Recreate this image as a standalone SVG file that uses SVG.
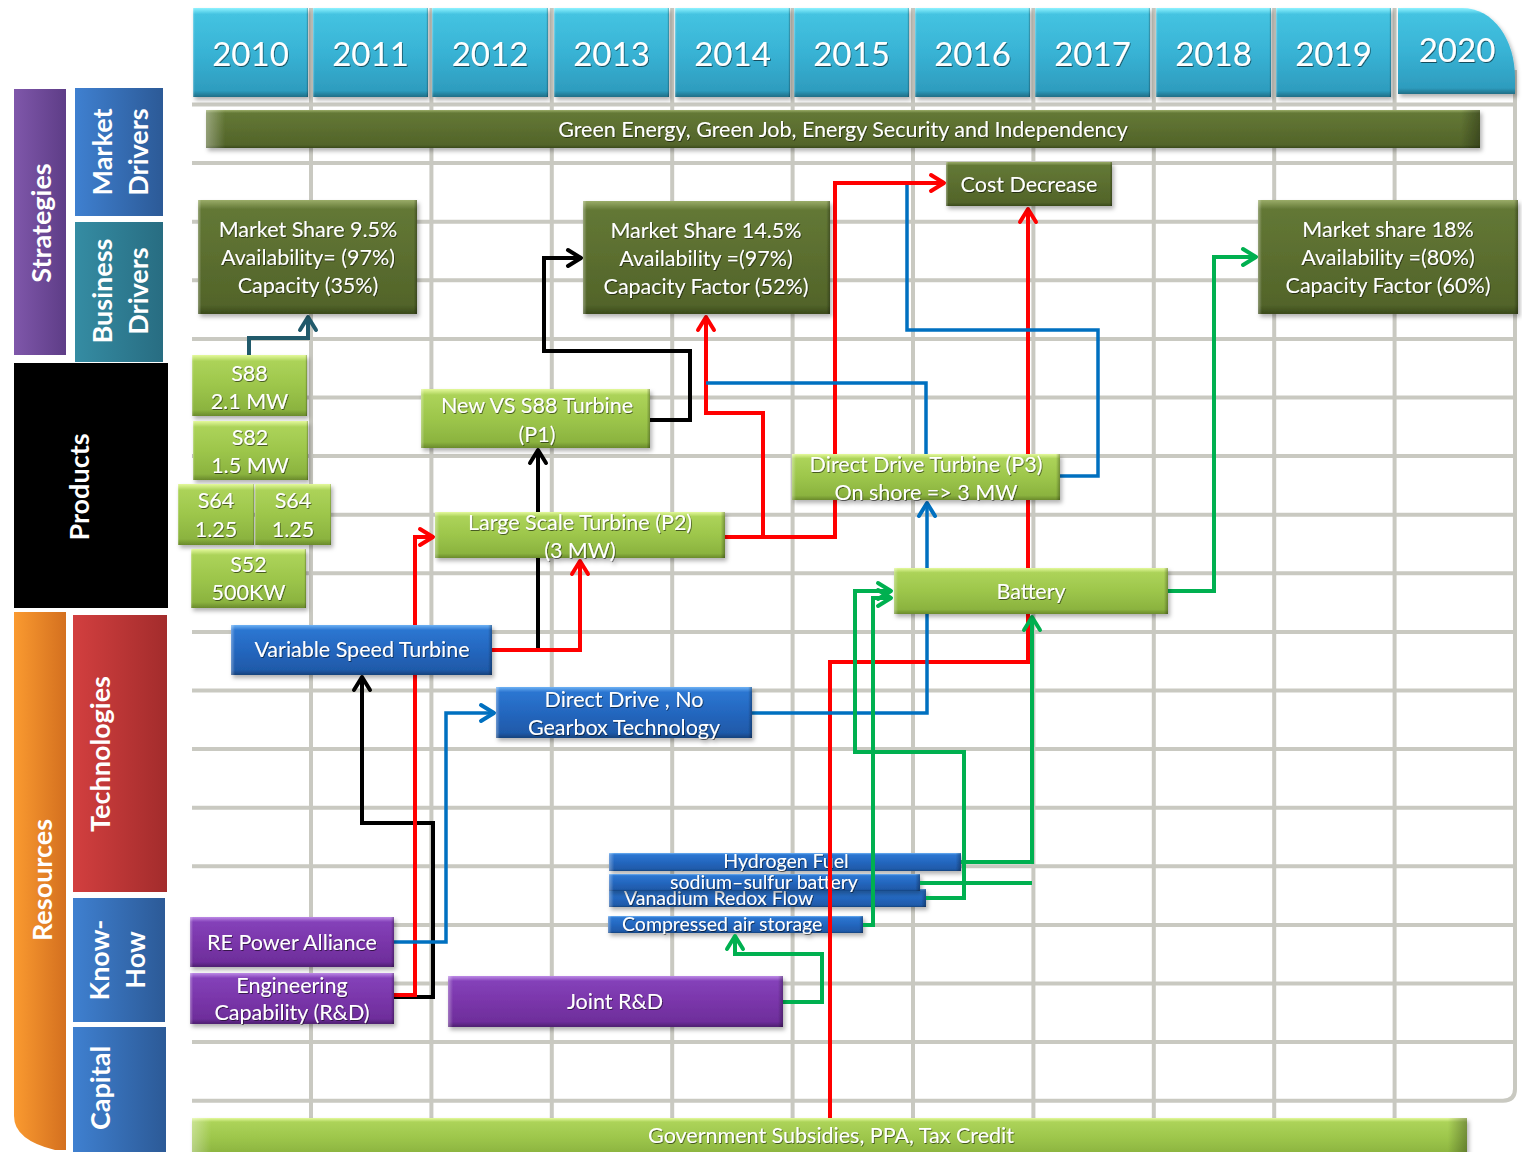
<svg xmlns="http://www.w3.org/2000/svg" width="1522" height="1152" viewBox="0 0 1522 1152">
<defs>
  <!-- vertical bevel fills -->
  <linearGradient id="gCyan" x1="0" y1="0" x2="0" y2="1">
    <stop offset="0" stop-color="#8ef2ff"/><stop offset="0.07" stop-color="#44c3e1"/>
    <stop offset="0.5" stop-color="#38b3d5"/><stop offset="0.93" stop-color="#2e9cbe"/><stop offset="1" stop-color="#1f6e86"/>
  </linearGradient>
  <linearGradient id="gOlive" x1="0" y1="0" x2="0" y2="1">
    <stop offset="0" stop-color="#9aac68"/><stop offset="0.08" stop-color="#637836"/>
    <stop offset="0.5" stop-color="#5b6e2f"/><stop offset="0.92" stop-color="#52642a"/><stop offset="1" stop-color="#3a4a1b"/>
  </linearGradient>
  <linearGradient id="gLime" x1="0" y1="0" x2="0" y2="1">
    <stop offset="0" stop-color="#e4f99c"/><stop offset="0.1" stop-color="#acd359"/>
    <stop offset="0.5" stop-color="#9dc64b"/><stop offset="0.9" stop-color="#8bb33f"/><stop offset="1" stop-color="#6a8a2b"/>
  </linearGradient>
  <linearGradient id="gBlue" x1="0" y1="0" x2="0" y2="1">
    <stop offset="0" stop-color="#6eb2f4"/><stop offset="0.1" stop-color="#2c76d1"/>
    <stop offset="0.5" stop-color="#2467bf"/><stop offset="0.9" stop-color="#1f5aa9"/><stop offset="1" stop-color="#16427c"/>
  </linearGradient>
  <linearGradient id="gPurple" x1="0" y1="0" x2="0" y2="1">
    <stop offset="0" stop-color="#bd8ae6"/><stop offset="0.1" stop-color="#8441b9"/>
    <stop offset="0.5" stop-color="#7a36aa"/><stop offset="0.9" stop-color="#6e2e9b"/><stop offset="1" stop-color="#4e1f70"/>
  </linearGradient>
  <!-- side bevel overlay -->
  <linearGradient id="gSide" x1="0" y1="0" x2="1" y2="0">
    <stop offset="0" stop-color="#fff" stop-opacity="0.35"/><stop offset="0.015" stop-color="#fff" stop-opacity="0"/>
    <stop offset="0.985" stop-color="#000" stop-opacity="0"/><stop offset="1" stop-color="#000" stop-opacity="0.3"/>
  </linearGradient>
  <!-- side-band label fills -->
  <linearGradient id="lPurple" x1="0" y1="0" x2="1" y2="0"><stop offset="0" stop-color="#7f57aa"/><stop offset="1" stop-color="#5e3d87"/></linearGradient>
  <linearGradient id="lBlue" x1="0" y1="0" x2="1" y2="0"><stop offset="0" stop-color="#3f80d0"/><stop offset="1" stop-color="#2c5a97"/></linearGradient>
  <linearGradient id="lTeal" x1="0" y1="0" x2="1" y2="0"><stop offset="0" stop-color="#358ca3"/><stop offset="1" stop-color="#286d82"/></linearGradient>
  <linearGradient id="lOrange" x1="0" y1="0" x2="1" y2="0"><stop offset="0" stop-color="#fa9a30"/><stop offset="1" stop-color="#d4701f"/></linearGradient>
  <linearGradient id="lRed" x1="0" y1="0" x2="1" y2="0"><stop offset="0" stop-color="#d23f3f"/><stop offset="1" stop-color="#a32c2c"/></linearGradient>

  <filter id="sh" x="-5%" y="-10%" width="115%" height="140%">
    <feDropShadow dx="2" dy="3" stdDeviation="2" flood-color="#000" flood-opacity="0.3"/>
  </filter>
  <filter id="ts" x="-5%" y="-20%" width="110%" height="150%">
    <feDropShadow dx="0.8" dy="1" stdDeviation="0.7" flood-color="#000" flood-opacity="0.55"/>
  </filter>

  <marker id="aRed" markerUnits="userSpaceOnUse" viewBox="0 0 22 22" markerWidth="22" markerHeight="22" refX="17" refY="11" orient="auto">
    <path d="M4,3 L17,11 L4,19" fill="none" stroke="#ff0000" stroke-width="4" stroke-linejoin="round" stroke-linecap="round"/>
  </marker>
  <marker id="aBlack" markerUnits="userSpaceOnUse" viewBox="0 0 22 22" markerWidth="22" markerHeight="22" refX="17" refY="11" orient="auto">
    <path d="M4,3 L17,11 L4,19" fill="none" stroke="#000" stroke-width="4" stroke-linejoin="round" stroke-linecap="round"/>
  </marker>
  <marker id="aBlue" markerUnits="userSpaceOnUse" viewBox="0 0 22 22" markerWidth="22" markerHeight="22" refX="17" refY="11" orient="auto">
    <path d="M4,3 L17,11 L4,19" fill="none" stroke="#0070c0" stroke-width="4" stroke-linejoin="round" stroke-linecap="round"/>
  </marker>
  <marker id="aGreen" markerUnits="userSpaceOnUse" viewBox="0 0 22 22" markerWidth="22" markerHeight="22" refX="17" refY="11" orient="auto">
    <path d="M4,3 L17,11 L4,19" fill="none" stroke="#00b050" stroke-width="4" stroke-linejoin="round" stroke-linecap="round"/>
  </marker>
  <marker id="aTeal" markerUnits="userSpaceOnUse" viewBox="0 0 22 22" markerWidth="22" markerHeight="22" refX="17" refY="11" orient="auto">
    <path d="M4,3 L17,11 L4,19" fill="none" stroke="#215a6b" stroke-width="4" stroke-linejoin="round" stroke-linecap="round"/>
  </marker>
</defs>
<style>
  .t { font-family: Lato, "Open Sans", "Liberation Sans", sans-serif; fill: #fff; font-size: 21.5px; text-anchor: middle; filter: url(#ts); }
  .yr { font-size: 33px; }
  .sm { font-size: 19.5px; }
  .lab { font-family: Lato, "Open Sans", "Liberation Sans", sans-serif; fill: #fff; font-size: 27px; font-weight: 700; text-anchor: middle; }
  .box { filter: url(#sh); }
  .side { fill: url(#gSide); }
  .grid line, .grid path { stroke: #c9c9c1; stroke-width: 4; fill: none; }
  .c { fill: none; stroke-width: 4; stroke-linejoin: miter; }
  .red { stroke: #ff0000; marker-end: url(#aRed); }
  .blk { stroke: #000; marker-end: url(#aBlack); }
  .blu { stroke: #0070c0; stroke-width: 3.5; marker-end: url(#aBlue); }
  .grn { stroke: #00b050; marker-end: url(#aGreen); }
  .tea { stroke: #215a6b; marker-end: url(#aTeal); }
  .noarrow { marker-end: none; }
</style>

<rect width="1522" height="1152" fill="#fff"/>

<!-- timeline grid -->
<g class="grid">
  <line x1="192" y1="104.5" x2="1515" y2="104.5"/>
  <line x1="192" y1="163.1" x2="1515" y2="163.1"/>
  <line x1="192" y1="221.7" x2="1515" y2="221.7"/>
  <line x1="192" y1="280.3" x2="1515" y2="280.3"/>
  <line x1="192" y1="338.9" x2="1515" y2="338.9"/>
  <line x1="192" y1="397.5" x2="1515" y2="397.5"/>
  <line x1="192" y1="456.1" x2="1515" y2="456.1"/>
  <line x1="192" y1="514.7" x2="1515" y2="514.7"/>
  <line x1="192" y1="573.3" x2="1515" y2="573.3"/>
  <line x1="192" y1="631.9" x2="1515" y2="631.9"/>
  <line x1="192" y1="690.5" x2="1515" y2="690.5"/>
  <line x1="192" y1="749.1" x2="1515" y2="749.1"/>
  <line x1="192" y1="807.7" x2="1515" y2="807.7"/>
  <line x1="192" y1="866.3" x2="1515" y2="866.3"/>
  <line x1="192" y1="924.9" x2="1515" y2="924.9"/>
  <line x1="192" y1="983.5" x2="1515" y2="983.5"/>
  <line x1="192" y1="1042.1" x2="1515" y2="1042.1"/>
  <line x1="311" y1="8" x2="311" y2="1118"/>
  <line x1="431.4" y1="8" x2="431.4" y2="1118"/>
  <line x1="551.8" y1="8" x2="551.8" y2="1118"/>
  <line x1="672.2" y1="8" x2="672.2" y2="1118"/>
  <line x1="792.6" y1="8" x2="792.6" y2="1118"/>
  <line x1="913" y1="8" x2="913" y2="1118"/>
  <line x1="1033.4" y1="8" x2="1033.4" y2="1118"/>
  <line x1="1153.8" y1="8" x2="1153.8" y2="1118"/>
  <line x1="1274.2" y1="8" x2="1274.2" y2="1118"/>
  <line x1="1394.6" y1="8" x2="1394.6" y2="1118"/>
  <path d="M192,1100.7 H1503 Q1515,1100.7 1515,1089 V70"/>
</g>

<!-- side bands -->
<g id="strategies">
  <rect x="14" y="89" width="52" height="266" fill="url(#lPurple)"/>
  <text class="lab" transform="translate(51,223) rotate(-90)">Strategies</text>
</g>
<g id="market-drivers">
  <rect x="75" y="88" width="88" height="128" fill="url(#lBlue)"/>
  <text class="lab" transform="translate(112,152) rotate(-90)">Market</text>
  <text class="lab" transform="translate(148,152) rotate(-90)">Drivers</text>
</g>
<g id="business-drivers">
  <rect x="75" y="222" width="88" height="140" fill="url(#lTeal)"/>
  <text class="lab" transform="translate(112,291) rotate(-90)">Business</text>
  <text class="lab" transform="translate(148,291) rotate(-90)">Drivers</text>
</g>
<g id="products">
  <rect x="14" y="363" width="154" height="245" fill="#000"/>
  <text class="lab" transform="translate(89,487) rotate(-90)">Products</text>
</g>
<g id="resources">
  <path d="M14,612 H66 V1150 H55 Q14,1140 14,1116 Z" fill="url(#lOrange)"/>
  <text class="lab" transform="translate(52,880) rotate(-90)">Resources</text>
</g>
<g id="technologies">
  <rect x="73" y="615" width="94" height="277" fill="url(#lRed)"/>
  <text class="lab" transform="translate(110,754) rotate(-90)">Technologies</text>
</g>
<g id="know-how">
  <rect x="73" y="898" width="92" height="124" fill="url(#lBlue)"/>
  <text class="lab" transform="translate(109,960) rotate(-90)">Know-</text>
  <text class="lab" transform="translate(145,960) rotate(-90)">How</text>
</g>
<g id="capital">
  <rect x="73" y="1027" width="93" height="125" fill="url(#lBlue)"/>
  <text class="lab" transform="translate(110,1088) rotate(-90)">Capital</text>
</g>

<!-- year header -->
<g id="y2010" class="box"><rect x="193" y="8" width="115" height="89" fill="url(#gCyan)"/><rect class="side" x="193" y="8" width="115" height="89"/><text class="t yr" x="250.5" y="66">2010</text></g>
<g id="y2011" class="box"><rect x="313" y="8" width="115" height="89" fill="url(#gCyan)"/><rect class="side" x="313" y="8" width="115" height="89"/><text class="t yr" x="370.5" y="66">2011</text></g>
<g id="y2012" class="box"><rect x="432" y="8" width="116" height="89" fill="url(#gCyan)"/><rect class="side" x="432" y="8" width="116" height="89"/><text class="t yr" x="490" y="66">2012</text></g>
<g id="y2013" class="box"><rect x="554" y="8" width="115" height="89" fill="url(#gCyan)"/><rect class="side" x="554" y="8" width="115" height="89"/><text class="t yr" x="611.5" y="66">2013</text></g>
<g id="y2014" class="box"><rect x="675" y="8" width="115" height="89" fill="url(#gCyan)"/><rect class="side" x="675" y="8" width="115" height="89"/><text class="t yr" x="732.5" y="66">2014</text></g>
<g id="y2015" class="box"><rect x="794" y="8" width="115" height="89" fill="url(#gCyan)"/><rect class="side" x="794" y="8" width="115" height="89"/><text class="t yr" x="851.5" y="66">2015</text></g>
<g id="y2016" class="box"><rect x="915" y="8" width="115" height="89" fill="url(#gCyan)"/><rect class="side" x="915" y="8" width="115" height="89"/><text class="t yr" x="972.5" y="66">2016</text></g>
<g id="y2017" class="box"><rect x="1035" y="8" width="115" height="89" fill="url(#gCyan)"/><rect class="side" x="1035" y="8" width="115" height="89"/><text class="t yr" x="1092.5" y="66">2017</text></g>
<g id="y2018" class="box"><rect x="1156" y="8" width="115" height="89" fill="url(#gCyan)"/><rect class="side" x="1156" y="8" width="115" height="89"/><text class="t yr" x="1213.5" y="66">2018</text></g>
<g id="y2019" class="box"><rect x="1276" y="8" width="115" height="89" fill="url(#gCyan)"/><rect class="side" x="1276" y="8" width="115" height="89"/><text class="t yr" x="1333.5" y="66">2019</text></g>
<g id="y2020" class="box"><path d="M1398,8 H1462 C1494,8 1515,40 1515,78 V94 H1398 Z" fill="url(#gCyan)"/><text class="t yr" x="1457" y="62">2020</text></g>

<!-- strategy bar -->
<g id="green-energy" class="box">
  <rect x="206" y="110" width="1274" height="38" fill="url(#gOlive)"/><rect class="side" x="206" y="110" width="1274" height="38"/>
  <text class="t" x="843" y="137">Green Energy, Green Job, Energy Security and Independency</text>
</g>

<!-- storage technology bars (under the connectors) -->
<g id="hydrogen-fuel" class="box">
  <rect x="609" y="853" width="352" height="18" fill="url(#gBlue)"/><rect class="side" x="609" y="853" width="352" height="18"/>
  <text class="t sm" x="786" y="868">Hydrogen Fuel</text>
</g>
<g id="vanadium-redox" class="box">
  <rect x="609" y="889" width="317" height="18" fill="url(#gBlue)"/><rect class="side" x="609" y="889" width="317" height="18"/>
  <text class="t sm" x="624" y="905" style="text-anchor:start">Vanadium Redox Flow</text>
</g>
<g id="sodium-sulfur" class="box">
  <rect x="609" y="874" width="311" height="17" fill="url(#gBlue)"/><rect class="side" x="609" y="874" width="311" height="17"/>
  <text class="t sm" x="764" y="889">sodium–sulfur battery</text>
</g>
<g id="compressed-air" class="box">
  <rect x="608" y="916" width="255" height="17" fill="url(#gBlue)"/><rect class="side" x="608" y="916" width="255" height="17"/>
  <text class="t sm" x="622" y="931" style="text-anchor:start">Compressed air storage</text>
</g>

<!-- connectors -->
<g id="connectors">
  <path class="c tea" d="M249,355 V338 H308 V317"/>
  <path class="c blk" d="M650,420 H690 V351 H544 V258 H581"/>
  <path class="c blk" d="M538,650 V450"/>
  <path class="c blk" d="M394,997 H433 V823 H362 V677"/>
  <path class="c red" d="M394,995 H415 V537 H433"/>
  <path class="c red" d="M492,650 H580 V561"/>
  <path class="c red" d="M725,537 H835 V183 H944"/>
  <path class="c red" d="M763,537 V413 H706 V317"/>
  <path class="c red" d="M830,1118 V662 H1028 V209"/>
  <path class="c blu" d="M394,942 H446 V713 H494"/>
  <path class="c blu" d="M752,713 H927 V503"/>
  <path class="c blu noarrow" d="M706,383 H926 V454"/>
  <path class="c blu noarrow" d="M1060,476 H1098 V330 H907 V185"/>
  <path class="c grn" d="M1168,591 H1214 V257 H1256"/>
  <path class="c grn" d="M783,1002 H822 V954 H735 V936"/>
  <path class="c grn" d="M863,925 H873 V598 H891"/>
  <path class="c grn" d="M926,898 H964 V752 H855 V591 H891"/>
  <path class="c grn" d="M961,862 H1032 V617"/>
  <path class="c grn noarrow" d="M920,883 H1032"/>
</g>

<!-- business drivers -->
<g id="market-share-2010" class="box">
  <rect x="198" y="200" width="219" height="114" fill="url(#gOlive)"/><rect class="side" x="198" y="200" width="219" height="114"/>
  <text class="t" x="308" y="237">Market Share 9.5%</text>
  <text class="t" x="308" y="265">Availability= (97%)</text>
  <text class="t" x="308" y="293">Capacity (35%)</text>
</g>
<g id="market-share-2013" class="box">
  <rect x="583" y="201" width="247" height="113" fill="url(#gOlive)"/><rect class="side" x="583" y="201" width="247" height="113"/>
  <text class="t" x="706" y="238">Market Share 14.5%</text>
  <text class="t" x="706" y="266">Availability =(97%)</text>
  <text class="t" x="706" y="294">Capacity Factor (52%)</text>
</g>
<g id="market-share-2020" class="box">
  <rect x="1258" y="200" width="260" height="114" fill="url(#gOlive)"/><rect class="side" x="1258" y="200" width="260" height="114"/>
  <text class="t" x="1388" y="237">Market share 18%</text>
  <text class="t" x="1388" y="265">Availability =(80%)</text>
  <text class="t" x="1388" y="293">Capacity Factor (60%)</text>
</g>
<g id="cost-decrease" class="box">
  <rect x="946" y="162" width="166" height="44" fill="url(#gOlive)"/><rect class="side" x="946" y="162" width="166" height="44"/>
  <text class="t" x="1029" y="192">Cost Decrease</text>
</g>

<!-- products -->
<g id="s88" class="box">
  <rect x="192" y="355" width="115" height="61" fill="url(#gLime)"/><rect class="side" x="192" y="355" width="115" height="61"/>
  <text class="t" x="249.5" y="381">S88</text><text class="t" x="249.5" y="409">2.1 MW</text>
</g>
<g id="s82" class="box">
  <rect x="193" y="421" width="115" height="59" fill="url(#gLime)"/><rect class="side" x="193" y="421" width="115" height="59"/>
  <text class="t" x="250" y="445">S82</text><text class="t" x="250" y="473">1.5 MW</text>
</g>
<g id="s64-a" class="box">
  <rect x="178" y="484" width="76" height="61" fill="url(#gLime)"/><rect class="side" x="178" y="484" width="76" height="61"/>
  <text class="t" x="216" y="508">S64</text><text class="t" x="216" y="537">1.25</text>
</g>
<g id="s64-b" class="box">
  <rect x="255" y="484" width="76" height="61" fill="url(#gLime)"/><rect class="side" x="255" y="484" width="76" height="61"/>
  <text class="t" x="293" y="508">S64</text><text class="t" x="293" y="537">1.25</text>
</g>
<g id="s52" class="box">
  <rect x="191" y="549" width="115" height="59" fill="url(#gLime)"/><rect class="side" x="191" y="549" width="115" height="59"/>
  <text class="t" x="248.5" y="572">S52</text><text class="t" x="248.5" y="600">500KW</text>
</g>
<g id="p1-new-vs-s88" class="box">
  <rect x="421" y="389" width="229" height="59" fill="url(#gLime)"/><rect class="side" x="421" y="389" width="229" height="59"/>
  <text class="t" x="537" y="413">New VS S88 Turbine</text><text class="t" x="537" y="442">(P1)</text>
</g>
<g id="p2-large-scale" class="box">
  <rect x="435" y="512" width="290" height="46" fill="url(#gLime)"/><rect class="side" x="435" y="512" width="290" height="46"/>
  <text class="t" x="580" y="530">Large Scale Turbine (P2)</text><text class="t" x="580" y="558">(3 MW)</text>
</g>
<g id="p3-direct-drive" class="box">
  <rect x="792" y="454" width="268" height="46" fill="url(#gLime)"/><rect class="side" x="792" y="454" width="268" height="46"/>
  <text class="t" x="926" y="472">Direct Drive Turbine (P3)</text><text class="t" x="926" y="500">On shore =&gt; 3 MW</text>
</g>
<g id="battery" class="box">
  <rect x="894" y="568" width="274" height="46" fill="url(#gLime)"/><rect class="side" x="894" y="568" width="274" height="46"/>
  <text class="t" x="1031" y="599">Battery</text>
</g>

<!-- technologies -->
<g id="variable-speed" class="box">
  <rect x="231" y="625" width="261" height="50" fill="url(#gBlue)"/><rect class="side" x="231" y="625" width="261" height="50"/>
  <text class="t" x="362" y="657">Variable Speed Turbine</text>
</g>
<g id="direct-drive-no-gearbox" class="box">
  <rect x="496" y="687" width="256" height="51" fill="url(#gBlue)"/><rect class="side" x="496" y="687" width="256" height="51"/>
  <text class="t" x="624" y="707">Direct Drive , No</text><text class="t" x="624" y="735">Gearbox Technology</text>
</g>

<!-- know-how -->
<g id="re-power-alliance" class="box">
  <rect x="190" y="917" width="204" height="50" fill="url(#gPurple)"/><rect class="side" x="190" y="917" width="204" height="50"/>
  <text class="t" x="292" y="950">RE Power Alliance</text>
</g>
<g id="engineering-capability" class="box">
  <rect x="190" y="973" width="204" height="51" fill="url(#gPurple)"/><rect class="side" x="190" y="973" width="204" height="51"/>
  <text class="t" x="292" y="993">Engineering</text><text class="t" x="292" y="1020">Capability (R&amp;D)</text>
</g>
<g id="joint-rd" class="box">
  <rect x="448" y="976" width="335" height="51" fill="url(#gPurple)"/><rect class="side" x="448" y="976" width="335" height="51"/>
  <text class="t" x="615" y="1009">Joint R&amp;D</text>
</g>

<!-- capital -->
<g id="government-subsidies" class="box">
  <rect x="192" y="1118" width="1275" height="40" fill="url(#gLime)"/><rect class="side" x="192" y="1118" width="1275" height="40"/>
  <text class="t" x="831" y="1143">Government Subsidies, PPA, Tax Credit</text>
</g>
</svg>
